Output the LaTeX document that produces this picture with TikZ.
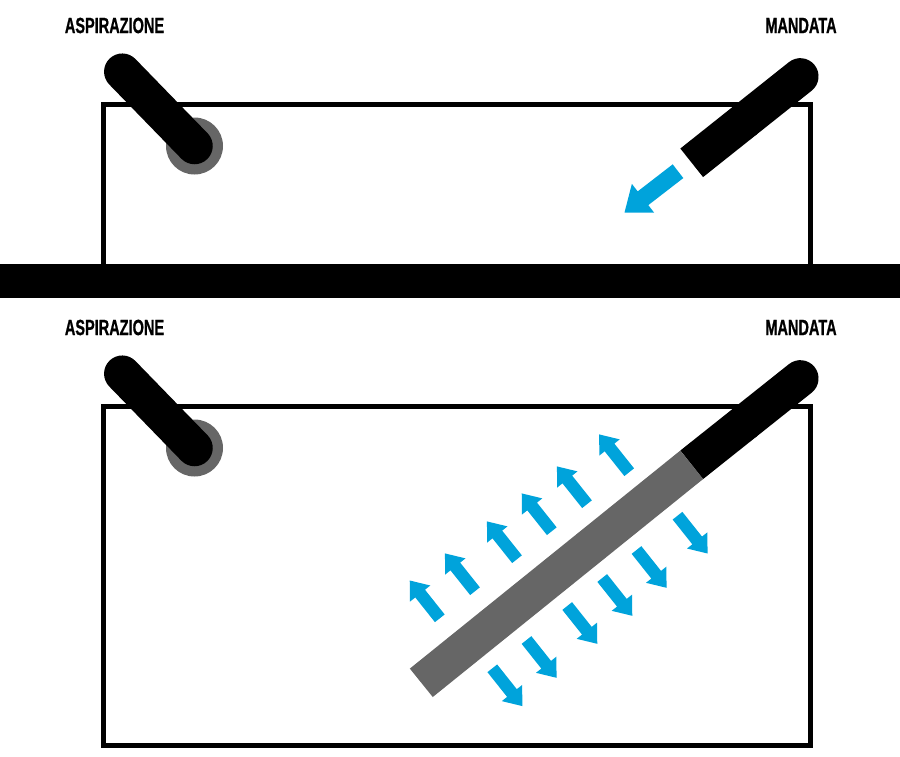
\documentclass[tikz,border=0pt]{standalone}
\usepackage{fontspec}
\usetikzlibrary{calc}
\newfontfamily\tanklabel[FakeStretch=0.66,BoldFeatures={FakeBold=0.8}]{Liberation Sans}
\definecolor{flow}{HTML}{00A3DB}
\definecolor{screen}{HTML}{666666}
\tikzset{
  wall/.style={draw=black,line width=4.6pt,miter limit=10},
  pipe/.style={draw=black,line width=36.5pt,line cap=round},
  cutpipe/.style={draw=black,line width=36.5pt},
  porous/.style={draw=screen,line width=36.5pt},
  tag/.style={inner sep=0pt,font=\tanklabel\bfseries\fontsize{22}{22}\selectfont},
  jet/.pic={\fill[flow] (0,-6.2) -- (31.6,-6.2) -- (31.6,-13) -- (48.3,0)
    -- (31.6,13) -- (31.6,6.2) -- (0,6.2) -- cycle;}
}
\begin{document}
\begin{tikzpicture}[x=1pt,y=-1pt]
    \useasboundingbox (0,0) rectangle (900,756);

    % upper tank
    \path
    (122.3,71.7) coordinate (intop)
    (194.5,146) coordinate (inend)
    (800.3,76.4) coordinate (outtop)
    (691.7,162.8) coordinate (outend)
    (103.5,264) coordinate (wallL)
    (810.5,264) coordinate (wallR)
    (114.5,25.5) node[tag] (intag) {ASPIRAZIONE}
    (801,25.5) node[tag] (outtag) {MANDATA}
    ;
    \draw[wall] (wallL) |- (wallR |- 0,104.3) -- (wallR);
    \fill[screen] (inend) circle (28.5);
    \draw[pipe] (intop) -- (inend);
    \draw[pipe] (outtop) -- ($(outtop)!0.5!(outend)$);
    \draw[cutpipe] ($(outtop)!0.5!(outend)$) -- (outend);
    \pic[rotate=217.7,scale=1.4] at (678,171.2) {jet};

    \fill[black] (0,264) rectangle (900,298);

    % lower tank
    \path
    (122.3,373.7) coordinate (intop2)
    (194.5,448) coordinate (inend2)
    (800.3,378.4) coordinate (outtop2)
    (691.7,464.8) coordinate (outend2)
    (421.3,682.8) coordinate (screenend)
    (114.5,327.5) node[tag] (intag2) {ASPIRAZIONE}
    (801,327.5) node[tag] (outtag2) {MANDATA}
    ;
    \draw[wall] (103.5,406.3) rectangle (810.5,745.3);
    \fill[screen] (inend2) circle (28.5);
    \draw[pipe] (intop2) -- (inend2);
    \draw[pipe] (outtop2) -- ($(outtop2)!0.5!(outend2)$);
    \draw[cutpipe] ($(outtop2)!0.5!(outend2)$) -- (outend2);
    \draw[porous] (outend2) -- (screenend);

    \foreach \x/\y in {439.8/618.3,475/591.2,517/559.2,551.8/531.2,587/504.2,629.2/472.2}
      \pic[rotate=128.5] at (\x,\y) {jet};
    \foreach \x/\y in {492.3/668.3,526.5/640,567.2/606,602.2/578,636.5/550,677.5/515.7}
      \pic[rotate=-51.5] at (\x,\y) {jet};
\end{tikzpicture}
\end{document}
